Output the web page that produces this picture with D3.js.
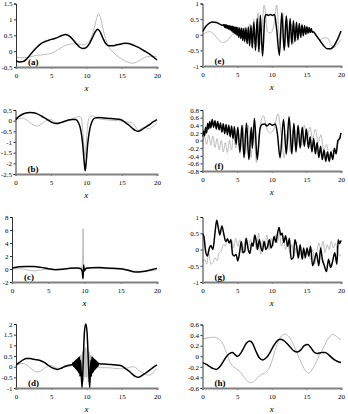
<!DOCTYPE html>
<html><head><meta charset="utf-8">
<script src="https://cdn.jsdelivr.net/npm/d3@7"></script>
<style>
body{margin:0;background:#fff}
svg{display:block}
text{font-family:"Liberation Serif","Times New Roman",serif;fill:#000}
</style>
</head><body>
<svg id="chart" width="348" height="414"></svg>
<script>
const xTicks=[0,5,10,15,20];

const aTicks=[-0.5,0,0.5,1,1.5];
const aBlack=[[0,-0.3],[0.5,-0.34],[1,-0.33],[1.5,-0.25],[2,-0.12],[2.5,0.01],[3,0.13],[3.5,0.23],[4,0.29],[4.5,0.33],[5,0.37],[5.5,0.4],[6,0.44],[6.5,0.49],[7,0.52],[7.3,0.51],[7.7,0.45],[8,0.38],[8.5,0.25],[9,0.13],[9.5,0.08],[10,0.12],[10.5,0.27],[11,0.5],[11.3,0.63],[11.6,0.69],[11.9,0.62],[12.3,0.42],[12.7,0.25],[13.2,0.17],[13.7,0.17],[14.3,0.2],[15,0.23],[15.5,0.25],[16,0.24],[16.7,0.18],[17.5,0.1],[18.1,0.02],[19,-0.1],[20,-0.28]];
const aGray=[[0,-0.2],[1,-0.21],[2,-0.18],[3,-0.13],[4,-0.11],[5,-0.07],[5.5,-0.02],[6,0.05],[6.5,0.12],[7,0.18],[7.5,0.21],[8,0.23],[9,0.22],[9.5,0.2],[10,0.23],[10.5,0.36],[11,0.65],[11.4,1.0],[11.7,1.18],[12,1.05],[12.4,0.65],[12.8,0.32],[13.2,0.12],[13.7,-0.02],[14.2,-0.12],[15,-0.25],[15.8,-0.34],[16.6,-0.38],[17.5,-0.3],[18.5,-0.18],[19.5,-0.16],[20,-0.18]];

const bTicks=[-2.5,-2,-1.5,-1,-0.5,0,0.5];
const bBlack=[[0,0.05],[0.5,0.2],[1,0.3],[1.5,0.36],[2,0.38],[2.5,0.37],[3,0.33],[3.5,0.25],[4,0.15],[4.5,0.05],[5,-0.05],[5.5,-0.12],[6,-0.13],[6.5,-0.08],[7,-0.03],[7.5,0.03],[8,0.06],[8.5,0.05],[8.9,-0.1],[9.2,-0.4],[9.5,-1.1],[9.7,-1.9],[9.85,-2.35],[10,-1.9],[10.2,-1.1],[10.5,-0.4],[10.8,-0.05],[11.2,0.12],[11.7,0.15],[12.5,0.13],[13.5,0.1],[14.5,0.07],[15,0.03],[15.5,-0.08],[16,-0.2],[16.5,-0.35],[17,-0.47],[17.3,-0.5],[17.7,-0.45],[18.3,-0.32],[19,-0.17],[19.5,-0.05],[20,0.05]];
const bGray=[[0,0.0],[0.5,0.1],[1,0.12],[1.5,0.05],[2,-0.08],[2.5,-0.2],[3,-0.25],[3.5,-0.2],[4,-0.08],[4.5,0.03],[5,0.05],[5.5,-0.05],[6,-0.1],[6.5,-0.08],[7,-0.02],[7.5,0.02],[8,0.08],[8.5,0.15],[9,0.2],[9.3,0.12],[9.55,-0.6],[9.8,-1.7],[10.0,-1.0],[10.2,-0.2],[10.5,0.18],[10.9,0.22],[11.5,0.12],[12.5,0.05],[13.5,0.02],[14.5,0.0],[15.5,-0.05],[16.5,-0.1],[17,-0.3],[17.4,-0.45],[17.8,-0.35],[18.3,-0.33],[18.8,-0.38],[19.3,-0.3],[20,-0.1]];

const cTicks=[-2,0,2,4,6,8];
const cBlack=[[0,0.15],[1,0.35],[2,0.4],[3,0.38],[4,0.25],[5,0.05],[6,-0.1],[7,-0.05],[8,0.1],[9,0.15],[9.5,0.05],[9.7,-0.5],[9.8,-1.5],[9.88,0.6],[9.95,-0.3],[10.2,0.1],[11,0.2],[12,0.22],[13,0.15],[14,0.1],[15,0.05],[16,-0.2],[17,-0.45],[17.5,-0.45],[18.5,-0.3],[19.5,-0.05],[20,0.1]];
const cGray=[[0,0],[1,0.05],[2,-0.1],[3,-0.3],[4,-0.15],[5,0],[6,-0.05],[7,0],[8,0.1],[9,0.2],[9.6,0.1],[9.75,2],[9.8,6.2],[9.85,2],[10,-0.3],[10.5,0.2],[11,0.2],[12,0.1],[14,0],[16,-0.1],[17,-0.35],[18,-0.35],[19,-0.3],[20,-0.1]];

const dTicks=[-1,-0.5,0,0.5,1,1.5,2];
const dBlack=[[0,0.08],[0.5,0.2],[1,0.32],[1.5,0.38],[2,0.38],[2.5,0.35],[3,0.32],[3.5,0.28],[4,0.2],[4.5,0.08],[5,-0.03],[5.5,-0.1],[5.9,-0.13],[6.5,-0.06],[7,0.02],[7.5,0.07],[8,0.1],[8.1,0.18],[8.15,0.02],[8.2,0.2],[8.25,0.0],[8.3,0.24],[8.35,-0.04],[8.4,0.27],[8.45,-0.08],[8.5,0.3],[8.55,-0.12],[8.6,0.33],[8.65,-0.16],[8.7,0.36],[8.75,-0.2],[8.8,0.4],[8.85,-0.25],[8.9,0.43],[8.95,-0.3],[9.0,0.47],[9.08,-0.45],[9.16,0.3],[9.36,-1.0],[9.55,0.4],[9.7,1.6],[9.9,2.0],[10.08,1.6],[10.25,0.4],[10.45,-1.0],[10.62,0.3],[10.7,-0.45],[10.78,0.47],[10.83,-0.3],[10.88,0.43],[10.93,-0.25],[10.98,0.4],[11.03,-0.2],[11.08,0.36],[11.13,-0.16],[11.18,0.33],[11.23,-0.12],[11.28,0.3],[11.33,-0.08],[11.38,0.27],[11.43,-0.04],[11.48,0.24],[11.53,0.0],[11.58,0.2],[11.63,0.02],[11.7,0.16],[12,0.12],[12.5,0.12],[13.5,0.1],[14.5,0.07],[15,0.03],[15.5,-0.08],[16,-0.2],[16.5,-0.35],[17,-0.47],[17.3,-0.5],[17.7,-0.45],[18.3,-0.32],[19,-0.15],[19.5,-0.02],[20,0.08]];
const dGray=[[0,0.05],[0.5,0.12],[1,0.15],[1.5,0.08],[2,-0.05],[2.5,-0.18],[3,-0.25],[3.5,-0.2],[4,-0.08],[4.5,0.02],[5,0.05],[5.5,-0.02],[6,-0.08],[7,-0.02],[8,0.05],[8.6,0.1],[8.7,-0.15],[8.8,0.3],[8.9,-0.3],[9.0,0.4],[9.1,-0.45],[9.2,0.55],[9.3,-0.6],[9.42,0.7],[9.54,-0.7],[9.66,0.85],[9.78,-0.5],[9.9,0.9],[10.02,-0.5],[10.14,0.85],[10.26,-0.7],[10.38,0.7],[10.5,-0.6],[10.6,0.55],[10.7,-0.45],[10.8,0.4],[10.9,-0.3],[11.0,0.3],[11.1,-0.15],[11.2,0.1],[11.5,0.0],[12,-0.05],[13,-0.05],[14,-0.08],[15,-0.1],[16,-0.05],[16.5,0.0],[17,-0.05],[17.5,-0.2],[18,-0.3],[18.5,-0.38],[19,-0.4],[19.5,-0.25],[20,-0.08]];

const eTicks=[-1,-0.5,0,0.5,1];
const eBlack=[[0,0.1],[0.5,0.27],[1,0.37],[1.5,0.41],[2,0.39],[2.5,0.34],[3,0.3],[3.1,0.33],[3.2,0.24],[3.3,0.32],[3.4,0.22],[3.5,0.31],[3.6,0.2],[3.7,0.3],[3.8,0.18],[3.9,0.29],[4.0,0.15],[4.1,0.28],[4.2,0.12],[4.3,0.27],[4.4,0.08],[4.5,0.26],[4.6,0.05],[4.7,0.25],[4.8,0.02],[4.9,0.24],[5.0,-0.02],[5.12,0.23],[5.25,-0.08],[5.38,0.22],[5.52,-0.12],[5.66,0.22],[5.8,-0.18],[5.95,0.2],[6.1,-0.22],[6.27,0.22],[6.44,-0.28],[6.62,0.25],[6.8,-0.35],[7.0,0.3],[7.2,-0.42],[7.42,0.4],[7.65,-0.5],[7.9,0.52],[8.15,-0.55],[8.35,0.62],[8.67,-0.68],[9.0,0.55],[9.2,0.65],[9.5,0.62],[9.8,0.65],[10.1,0.62],[10.4,0.65],[10.7,0.2],[11.1,-0.66],[11.45,0.7],[11.8,-0.5],[12.1,0.6],[12.4,-0.4],[12.65,0.52],[12.9,-0.3],[13.13,0.45],[13.35,-0.22],[13.57,0.4],[13.78,-0.15],[13.98,0.36],[14.18,-0.08],[14.37,0.32],[14.56,-0.03],[14.74,0.29],[14.92,0.02],[15.08,0.26],[15.24,0.05],[15.4,0.23],[15.55,0.07],[15.7,0.2],[15.85,0.08],[16,0.1],[16.5,-0.05],[17,-0.2],[17.5,-0.35],[18,-0.45],[18.5,-0.45],[19,-0.35],[19.5,-0.15],[20,0.12]];
const eGray=[[0,0.0],[0.5,0.07],[1,0.1],[1.5,0.05],[2,-0.08],[2.5,-0.2],[3,-0.25],[3.5,-0.2],[4,-0.08],[4.5,0.03],[5,0.05],[5.3,-0.1],[5.6,0.15],[5.9,-0.2],[6.2,0.25],[6.5,-0.3],[6.8,0.35],[7.1,-0.4],[7.4,0.5],[7.7,-0.4],[8.0,0.7],[8.4,-0.3],[8.9,0.95],[9.4,0.1],[9.8,0.05],[10.3,0.3],[10.7,0.95],[11.2,-0.3],[11.6,0.7],[11.9,-0.4],[12.2,0.5],[12.5,-0.4],[12.8,0.35],[13.1,-0.3],[13.4,0.25],[13.7,-0.2],[14.0,0.15],[14.3,-0.1],[14.6,0.1],[15,0.0],[15.5,0.1],[16,0.05],[16.5,-0.05],[17,-0.15],[17.5,-0.1],[18,-0.1],[18.5,-0.3],[19,-0.4],[19.5,-0.3],[20,-0.15]];

const fTicks=[-0.8,-0.6,-0.4,-0.2,0,0.2,0.4,0.6,0.8];
const fBlack=[[0,0.1],[0.15,0.25],[0.3,0.12],[0.45,0.35],[0.6,0.2],[0.75,0.45],[0.9,0.3],[1.05,0.5],[1.2,0.33],[1.4,0.55],[1.6,0.35],[1.8,0.52],[2.0,0.3],[2.2,0.5],[2.4,0.28],[2.6,0.46],[2.8,0.22],[3.0,0.44],[3.2,0.18],[3.4,0.42],[3.6,0.15],[3.8,0.4],[4.0,0.1],[4.2,0.38],[4.4,0.05],[4.6,0.36],[4.85,-0.1],[5.1,0.35],[5.4,-0.3],[5.7,0.4],[6.0,-0.45],[6.35,0.45],[6.7,-0.5],[7.05,0.35],[7.2,-0.2],[7.5,0.58],[7.9,-0.5],[8.3,0.3],[8.6,0.42],[9.0,0.43],[9.3,0.38],[9.7,0.44],[10.1,0.4],[10.5,0.43],[10.8,0.2],[11.2,-0.45],[11.7,0.55],[12.1,-0.35],[12.5,0.62],[12.9,-0.35],[13.2,0.45],[13.5,-0.3],[13.8,0.4],[14.1,-0.2],[14.4,0.35],[14.7,-0.15],[15.0,0.3],[15.3,-0.2],[15.55,0.1],[15.8,-0.3],[16.05,0.05],[16.3,-0.35],[16.55,-0.05],[16.8,-0.45],[17.05,-0.15],[17.3,-0.5],[17.55,-0.25],[17.8,-0.55],[18.05,-0.3],[18.3,-0.55],[18.55,-0.3],[18.8,-0.5],[19.05,-0.2],[19.3,-0.35],[19.55,0.0],[19.8,0.05],[20,0.2]];
const fGray=[[0,-0.05],[0.3,0.1],[0.6,-0.1],[0.9,0.15],[1.2,-0.12],[1.5,0.12],[1.8,-0.18],[2.1,0.05],[2.4,-0.25],[2.7,0.0],[3.0,-0.3],[3.3,-0.05],[3.6,-0.32],[3.9,0.0],[4.2,-0.25],[4.5,0.15],[4.8,-0.2],[5.1,0.3],[5.4,-0.35],[5.8,0.4],[6.2,-0.35],[6.6,0.4],[7.0,-0.45],[7.4,0.3],[7.8,-0.58],[8.3,0.35],[8.8,0.65],[9.3,0.3],[9.8,0.2],[10.3,0.3],[10.9,0.7],[11.4,0.1],[11.8,-0.45],[12.3,0.2],[12.7,-0.3],[13.1,0.3],[13.5,-0.2],[13.9,0.25],[14.3,-0.15],[14.7,0.4],[15.1,0.0],[15.5,0.35],[15.9,0.05],[16.3,0.3],[16.7,-0.05],[17.1,0.15],[17.5,-0.25],[17.9,-0.1],[18.3,-0.4],[18.7,-0.25],[19.1,-0.35],[19.5,-0.1],[20,0.1]];

const gTicks=[-1,-0.5,0,0.5,1];
const gBlack=[[0,0.48],[0.2,0.4],[0.45,-0.05],[0.7,-0.2],[1.0,0.05],[1.2,0.12],[1.5,0.0],[1.8,0.5],[2.05,0.9],[2.3,0.65],[2.5,0.45],[2.8,0.72],[3.1,0.45],[3.35,0.25],[3.6,0.32],[3.85,0.2],[4.1,0.3],[4.35,-0.15],[4.6,-0.2],[4.85,-0.15],[5.1,-0.35],[5.35,-0.1],[5.6,0.25],[5.85,-0.1],[6.1,-0.05],[6.3,0.35],[6.6,0.0],[6.85,-0.12],[7.1,0.2],[7.3,0.1],[7.55,0.45],[7.8,0.2],[7.95,0.0],[8.2,0.3],[8.45,0.05],[8.65,-0.05],[8.9,0.25],[9.15,0.0],[9.4,0.1],[9.65,0.3],[9.9,0.05],[10.1,0.15],[10.35,0.4],[10.6,0.22],[10.8,0.45],[11.05,0.68],[11.3,0.45],[11.5,0.5],[11.75,0.22],[12.0,0.42],[12.3,0.1],[12.55,0.35],[12.8,-0.3],[13.1,-0.25],[13.35,0.3],[13.6,0.1],[13.85,-0.25],[14.1,0.15],[14.4,-0.3],[14.6,0.05],[14.85,-0.25],[15.1,0.05],[15.35,-0.2],[15.6,0.1],[15.9,-0.5],[16.2,-0.3],[16.45,-0.1],[16.8,-0.5],[17.05,0.05],[17.3,-0.3],[17.6,-0.5],[17.9,-0.68],[18.2,-0.3],[18.5,-0.55],[18.8,-0.35],[19.1,-0.1],[19.4,-0.45],[19.6,0.3],[19.8,0.18],[20,0.28]];
const gGray=[[0,-0.4],[0.3,-0.3],[0.6,-0.45],[0.9,-0.1],[1.2,-0.45],[1.5,-0.4],[1.8,-0.25],[2.1,-0.35],[2.4,-0.1],[2.7,-0.05],[3.0,0.15],[3.3,0.1],[3.6,0.35],[3.9,0.2],[4.2,0.3],[4.5,0.05],[4.8,0.35],[5.1,0.1],[5.4,0.3],[5.7,-0.1],[6.0,0.1],[6.3,0.35],[6.6,0.05],[6.9,0.3],[7.2,0.15],[7.5,0.35],[7.8,0.0],[8.1,0.5],[8.4,-0.15],[8.7,0.3],[9.0,0.1],[9.3,0.45],[9.6,0.0],[9.9,0.35],[10.2,0.1],[10.5,0.45],[10.8,0.2],[11.1,0.5],[11.4,0.1],[11.7,0.3],[12.0,0.0],[12.3,0.25],[12.6,-0.1],[12.9,0.15],[13.2,-0.2],[13.5,0.05],[13.8,-0.3],[14.1,0.0],[14.4,-0.15],[14.7,-0.3],[15.0,-0.05],[15.3,-0.15],[15.6,-0.3],[15.9,0.0],[16.2,-0.45],[16.5,-0.1],[16.8,0.2],[17.1,0.0],[17.4,0.25],[17.7,-0.1],[18.0,0.15],[18.3,0.0],[18.6,0.25],[18.9,0.05],[19.2,0.2],[19.5,-0.1],[19.8,-0.2],[20,-0.15]];

const hTicks=[-0.6,-0.4,-0.2,0,0.2,0.4,0.6];
const hBlack=[[0,-0.12],[0.5,-0.15],[1,-0.19],[1.5,-0.23],[2,-0.25],[2.5,-0.2],[3,-0.1],[3.5,0.0],[4,0.06],[4.3,0.07],[4.7,0.03],[5,0.0],[5.3,0.02],[5.8,0.12],[6.3,0.24],[6.8,0.29],[7.2,0.25],[7.7,0.1],[8.2,-0.03],[8.7,-0.07],[9.2,-0.03],[9.7,0.06],[10.2,0.18],[10.7,0.28],[11.2,0.32],[11.7,0.3],[12.2,0.24],[12.7,0.17],[13.2,0.1],[13.7,0.08],[14.2,0.12],[14.7,0.2],[15.2,0.22],[15.6,0.17],[16.1,0.08],[16.6,0.05],[17.2,0.07],[17.7,0.07],[18.2,0.03],[18.7,-0.03],[19.2,-0.08],[19.7,-0.11],[20,-0.12]];
const hGray=[[0,0.33],[0.5,0.34],[1,0.35],[1.5,0.36],[2,0.35],[2.5,0.31],[3,0.22],[3.5,0.05],[4,-0.12],[4.5,-0.2],[5,-0.25],[5.5,-0.3],[6,-0.4],[6.5,-0.47],[7,-0.5],[7.5,-0.47],[8,-0.4],[8.5,-0.34],[9,-0.32],[9.5,-0.25],[10,-0.1],[10.5,0.12],[11,0.3],[11.5,0.4],[11.9,0.42],[12.4,0.38],[12.9,0.28],[13.4,0.14],[13.9,-0.02],[14.4,-0.16],[14.9,-0.28],[15.3,-0.32],[15.8,-0.26],[16.3,-0.14],[16.8,0.0],[17.3,0.12],[17.8,0.25],[18.3,0.36],[18.8,0.41],[19.3,0.38],[19.7,0.33],[20,0.32]];

const panels=[
 {label:"(a)",ticks:aTicks,black:aBlack,gray:aGray,l:16,r:157,t:3.5,b:67},
 {label:"(b)",ticks:bTicks,black:bBlack,gray:bGray,l:15.5,r:157,t:110,b:174},
 {label:"(c)",ticks:cTicks,black:cBlack,gray:cGray,l:12,r:157,t:217,b:282},
 {label:"(d)",ticks:dTicks,black:dBlack,gray:dGray,l:16,r:157,t:324,b:388},
 {label:"(e)",ticks:eTicks,black:eBlack,gray:eGray,l:202.5,r:341,t:3.5,b:66},
 {label:"(f)",ticks:fTicks,black:fBlack,gray:fGray,l:202.5,r:341,t:110,b:171},
 {label:"(g)",ticks:gTicks,black:gBlack,gray:gGray,l:202.5,r:341,t:217,b:282},
 {label:"(h)",ticks:hTicks,black:hBlack,gray:hGray,l:202.5,r:341,t:324.5,b:388}
];

const svg=d3.select("#chart");
panels.forEach((p,i)=>{
  const x=d3.scaleLinear().domain([0,20]).range([p.l,p.r]);
  const y=d3.scaleLinear().domain([p.ticks[0],p.ticks[p.ticks.length-1]]).range([p.b,p.t]);
  const g=svg.append("g");
  const cid="clip"+i;
  g.append("clipPath").attr("id",cid).append("rect")
    .attr("x",p.l).attr("y",p.t-1).attr("width",p.r-p.l+1).attr("height",p.b-p.t+1);
  const line=d3.line().x(d=>x(d[0])).y(d=>y(d[1])).curve(d3.curveMonotoneX);
  const lg=g.append("g").attr("clip-path",`url(#${cid})`);
  lg.append("path").attr("d",line(p.gray)).attr("fill","none").attr("stroke","#b3b3b3").attr("stroke-width",0.9);
  lg.append("path").attr("d",line(p.black)).attr("fill","none").attr("stroke","#000").attr("stroke-width",1.5).attr("stroke-linejoin","round");
  const ya=g.append("g").attr("transform",`translate(${p.l},0)`)
    .call(d3.axisLeft(y).tickValues(p.ticks).tickSize(2).tickPadding(1.5).tickFormat(v=>String(+v.toFixed(2))));
  ya.select(".domain").attr("stroke","#000").attr("stroke-width",0.8);
  ya.selectAll("line").attr("stroke","#000").attr("stroke-width",0.8);
  ya.selectAll("text").attr("font-size","7px").attr("font-family","Liberation Serif, serif");
  const xa=g.append("g").attr("transform",`translate(0,${p.b})`)
    .call(d3.axisBottom(x).tickValues(xTicks).tickSize(2).tickPadding(4).tickFormat(d3.format("d")));
  xa.select(".domain").attr("stroke","#808080").attr("stroke-width",2);
  xa.selectAll("line").attr("stroke","#808080").attr("stroke-width",1);
  xa.selectAll("text").attr("font-size","7px").attr("font-family","Liberation Serif, serif");
  g.append("text").attr("x",(p.l+p.r)/2).attr("y",p.b+24).attr("text-anchor","middle")
    .attr("font-size","9px").attr("font-style","italic").text("x");
  g.append("text").attr("x",p.l+12).attr("y",p.b-2).attr("font-size","9px").attr("font-weight","bold").text(p.label);
});
</script>
</body></html>
